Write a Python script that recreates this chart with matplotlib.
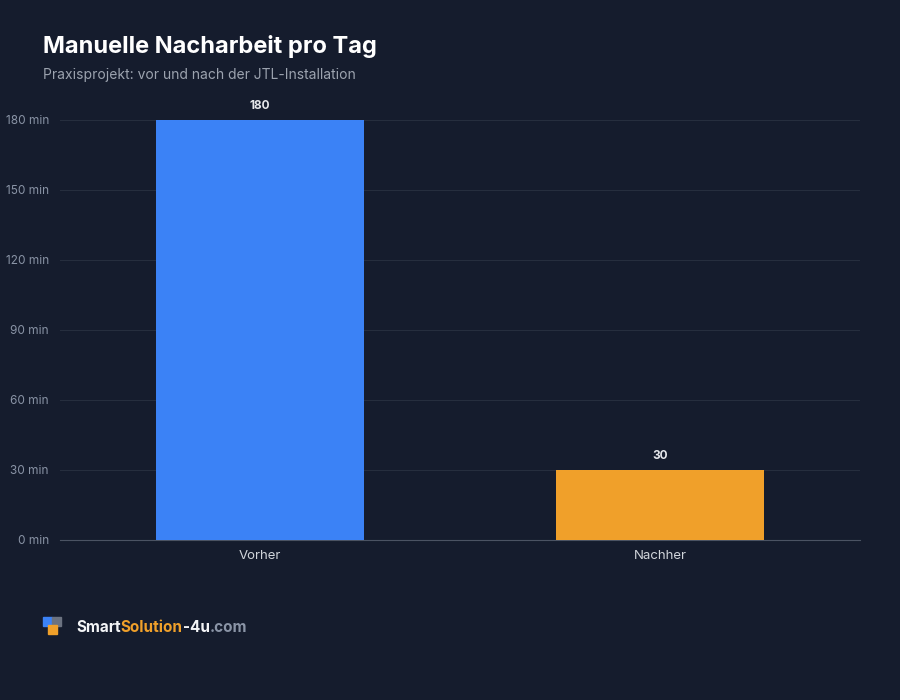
import matplotlib.pyplot as plt
from matplotlib.patches import Rectangle

categories = ['Vorher', 'Nachher']
minutes = [180, 30]
bar_colors = ['#3b82f6', '#f0a02a']
y_ticks = [0, 30, 60, 90, 120, 150, 180]

bg = '#151c2d'
plt.rcParams['font.family'] = ['Inter', 'DejaVu Sans']

fig = plt.figure(figsize=(9, 7), dpi=100, facecolor=bg)
ax = fig.add_axes([60 / 900, 160 / 700, 800 / 900, 420 / 700], facecolor=bg)

x = list(range(len(categories)))
bars = ax.bar(x, minutes, width=0.52, color=bar_colors, zorder=3)
for b, v in zip(bars, minutes):
    ax.text(b.get_x() + b.get_width() / 2, v + 3.5, str(v), ha='center', va='bottom',
            color='#e5e7eb', fontsize=8.5, fontweight='bold', clip_on=False)

ax.set_xlim(-0.5, 1.5)
ax.set_ylim(0, 180)
ax.set_yticks(y_ticks)
ax.set_yticklabels(['{} min'.format(t) for t in y_ticks])
ax.set_xticks(x)
ax.set_xticklabels(categories)
ax.grid(axis='y', color='#262e3e', linewidth=0.8, zorder=0)
for s in ['top', 'right', 'left']:
    ax.spines[s].set_visible(False)
ax.spines['bottom'].set_color('#4b5363')
ax.tick_params(axis='y', length=0, labelsize=8.5, labelcolor='#8a94a6', pad=8)
ax.tick_params(axis='x', length=0, labelsize=9.5, labelcolor='#d1d5db', pad=7)

fig.text(43 / 900, 1 - 47 / 700, 'Manuelle Nacharbeit pro Tag', color='white',
         fontsize=17, fontweight='bold', va='center')
fig.text(43 / 900, 1 - 75 / 700, 'Praxisprojekt: vor und nach der JTL-Installation',
         color='#9ca3af', fontsize=10, va='center')

# logo
for (lx, ly, c) in [(43, 617, '#3b82f6'), (52, 617, '#6b7280'), (48, 625, '#f0a02a')]:
    fig.patches.append(Rectangle((lx / 900, 1 - (ly + 9) / 700), 9 / 900, 9 / 700,
                                 transform=fig.transFigure, color=c))
ty = 1 - 627 / 700
t1 = fig.text(76 / 900, ty, 'Smart', color='#f3f4f6', fontsize=11, fontweight='bold', va='center')
fig.canvas.draw()
r = fig.canvas.get_renderer()
pos = 76
for txt, col in [('Smart', '#f3f4f6'), ('Solution', '#f0a02a'), ('-4u', '#f3f4f6'), ('.com', '#8a94a6')]:
    t = fig.text(pos / 900, ty, txt, color=col, fontsize=11, fontweight='bold', va='center')
    pos += t.get_window_extent(r).width
t1.remove()

fig.savefig('out.png', facecolor=bg)
